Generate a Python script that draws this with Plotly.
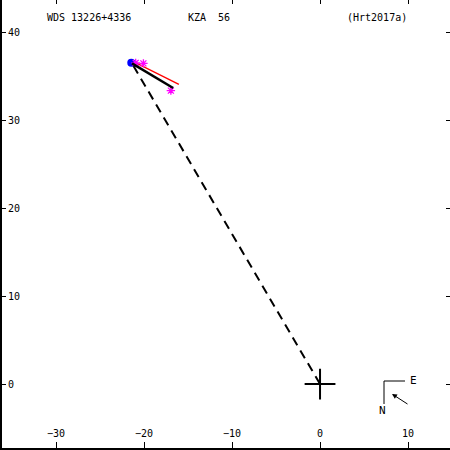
import plotly.graph_objects as go

# ---- data (arcsec-like offsets) ----
x_ticks = [-30, -20, -10, 0, 10]
y_ticks = [0, 10, 20, 30, 40]
y_tick_text = ["0", "10", "20", "30", "40"]

first_obs_x = [-21.45]
first_obs_y = [36.52]

star_obs_x = [-20.95, -20.07, -16.95]
star_obs_y = [36.50, 36.44, 33.34]

red_line_x = [-21.49, -16.04]
red_line_y = [36.78, 34.06]

fit_line_x = [-21.37, -16.69]
fit_line_y = [36.44, 33.64]

dash_x = [0.0, -21.37]
dash_y = [0.0, 36.44]

primary_x = [0.0]
primary_y = [0.0]

title_left = "WDS 13226+4336"
title_mid = "KZA  56"
title_right = "(Hrt2017a)"

font_mono = "DejaVu Sans Mono"

fig = go.Figure()

fig.add_trace(go.Scatter(x=dash_x, y=dash_y, mode="lines",
                         line=dict(color="black", width=2, dash="9px,6px"),
                         hoverinfo="skip"))
fig.add_trace(go.Scatter(x=red_line_x, y=red_line_y, mode="lines",
                         line=dict(color="red", width=1.3)))
fig.add_trace(go.Scatter(x=first_obs_x, y=first_obs_y, mode="markers",
                         marker=dict(color="blue", size=8, symbol="circle")))
fig.add_trace(go.Scatter(x=star_obs_x, y=star_obs_y, mode="markers",
                         marker=dict(color="magenta", size=7, symbol="asterisk-open",
                                     line=dict(color="magenta", width=1.3))))
fig.add_trace(go.Scatter(x=fit_line_x, y=fit_line_y, mode="lines",
                         line=dict(color="black", width=2.5)))
fig.add_trace(go.Scatter(x=primary_x, y=primary_y, mode="markers",
                         marker=dict(color="black", size=22, symbol="cross-thin-open",
                                     line=dict(color="black", width=2))))

axis_font = dict(family=font_mono, size=10, color="black")

fig.update_layout(
    width=450, height=450,
    margin=dict(l=2, r=0, t=0, b=2),
    paper_bgcolor="white", plot_bgcolor="white",
    showlegend=False,
    xaxis=dict(range=[-36.14, 14.77], tickvals=x_ticks, ticks="inside", ticklen=6,
               tickcolor="black", tickwidth=1, showgrid=False, zeroline=False,
               showline=True, linecolor="black", linewidth=2,
               ticklabelposition="inside", tickfont=axis_font, ticklabelstandoff=2),
    yaxis=dict(range=[-7.27, 43.64], tickvals=y_ticks, ticktext=y_tick_text,
               ticks="inside", ticklen=4,
               tickcolor="black", tickwidth=1, showgrid=False, zeroline=False,
               showline=True, linecolor="black", linewidth=2,
               ticklabelposition="inside", tickfont=axis_font, ticklabelstandoff=1),
    xaxis2=dict(range=[-36.14, 14.77], tickvals=x_ticks, ticks="inside", ticklen=4,
                tickcolor="black", overlaying="x", side="top", showticklabels=False,
                showgrid=False, zeroline=False, showline=False),
    yaxis2=dict(range=[-7.27, 43.64], tickvals=y_ticks, ticks="inside", ticklen=4,
                tickcolor="black", overlaying="y", side="right", showticklabels=False,
                showgrid=False, zeroline=False, showline=False),
)
# dummy trace to activate the mirrored axes
fig.add_trace(go.Scatter(x=[None], y=[None], xaxis="x2", yaxis="y2", showlegend=False))

def px_x(p):
    return (p - 2) / 448.0

def px_y(p):
    return 1 - p / 448.0

for txt, xp in [(title_left, 45), (title_mid, 186), (title_right, 345)]:
    fig.add_annotation(text=txt, xref="paper", yref="paper", x=px_x(xp), y=px_y(17),
                       xanchor="left", yanchor="middle", showarrow=False,
                       font=dict(family=font_mono, size=10, color="black"))

# compass
fig.add_shape(type="line", xref="paper", yref="paper",
              x0=px_x(384), y0=px_y(381), x1=px_x(405), y1=px_y(381),
              line=dict(color="black", width=1))
fig.add_shape(type="line", xref="paper", yref="paper",
              x0=px_x(384), y0=px_y(381), x1=px_x(384), y1=px_y(404),
              line=dict(color="black", width=1))
fig.add_annotation(text="E", xref="paper", yref="paper", x=px_x(413), y=px_y(380),
                   xanchor="center", yanchor="middle",
                   showarrow=False, font=dict(family=font_mono, size=11, color="black"))
fig.add_annotation(text="N", xref="paper", yref="paper", x=px_x(382), y=px_y(410),
                   xanchor="center", yanchor="middle",
                   showarrow=False, font=dict(family=font_mono, size=11, color="black"))
fig.add_annotation(text="", xref="paper", yref="paper", axref="pixel", ayref="pixel",
                   x=px_x(392), y=px_y(394), ax=17, ay=11,
                   showarrow=True, arrowhead=2, arrowsize=1, arrowwidth=1, arrowcolor="black")

fig.write_html("out.html", config={"displayModeBar": False},
               post_script="document.body.style.margin='0';document.body.style.overflow='hidden';")
